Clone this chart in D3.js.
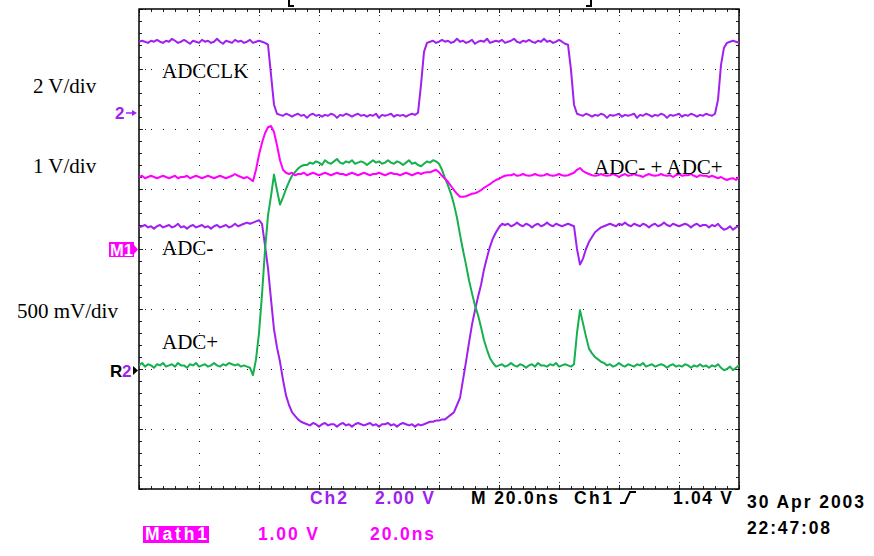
<!DOCTYPE html>
<html>
<head>
<meta charset="utf-8">
<script src="https://cdn.jsdelivr.net/npm/d3@7"></script>
<style>
  body { margin: 0; background: #fff; }
  svg { display: block; }
</style>
</head>
<body>
<script>
const PURPLE = "#a020f0";
const MAGENTA = "#ff00ff";
const GREEN = "#17b04f";

// scope samples, 1 ns apart, 0..200 ns (10 div x 20 ns)
const timeNs = d3.range(0, 201);

// Ch2 ADCCLK, volts
const ch2Clock = [
  2.37,2.40,2.37,2.33,2.40,2.37,2.43,2.37,2.33,2.40,
  2.37,2.47,2.40,2.33,2.37,2.43,2.37,2.30,2.40,2.37,
  2.33,2.43,2.37,2.40,2.33,2.37,2.47,2.37,2.30,2.40,
  2.37,2.33,2.43,2.37,2.40,2.33,2.37,2.43,2.33,2.37,
  2.40,2.37,2.33,
  2.27,1.27,0.27,-0.03,
  -0.07,-0.10,-0.03,-0.07,-0.13,-0.07,-0.03,-0.10,-0.07,-0.17,
  -0.07,-0.03,-0.10,-0.07,-0.13,-0.07,-0.10,-0.03,-0.07,-0.17,
  -0.07,-0.10,-0.03,-0.07,-0.13,-0.07,-0.03,-0.10,-0.07,-0.13,
  -0.07,-0.10,-0.03,-0.17,-0.07,-0.10,-0.07,-0.03,-0.13,-0.07,
  -0.10,-0.07,-0.13,-0.07,-0.03,-0.07,
  0.00,0.93,2.03,2.33,
  2.37,2.40,2.33,2.37,2.43,2.37,2.40,2.33,2.37,2.47,
  2.37,2.40,2.33,2.37,2.43,2.30,2.37,2.40,2.37,2.47,
  2.33,2.37,2.40,2.37,2.43,2.33,2.37,2.40,2.47,2.37,
  2.33,2.40,2.37,2.43,2.37,2.33,2.40,2.37,2.47,2.37,
  2.40,2.33,2.37,2.43,2.37,2.30,
  2.27,1.43,0.27,-0.03,
  -0.07,-0.10,-0.03,-0.07,-0.13,-0.07,-0.10,-0.03,-0.07,-0.17,
  -0.07,-0.10,-0.07,-0.03,-0.13,-0.07,-0.10,-0.07,-0.03,-0.17,
  -0.07,-0.10,-0.03,-0.07,-0.13,-0.07,-0.10,-0.03,-0.07,-0.17,
  -0.07,-0.10,-0.07,-0.03,-0.13,-0.07,-0.10,-0.03,-0.07,-0.13,
  -0.07,-0.10,-0.03,-0.07,-0.10,
  -0.03,0.43,1.60,2.17,2.33,
  2.37,2.40,2.37,2.33
];

// Math1 = ADC- + ADC+, volts
const math1Sum = [
  1.20,1.22,1.18,1.20,1.22,1.20,1.18,1.20,1.22,1.20,
  1.18,1.20,1.22,1.18,1.20,1.20,1.22,1.18,1.20,1.22,
  1.20,1.18,1.20,1.22,1.20,1.18,1.20,1.22,1.20,1.18,
  1.20,1.22,1.25,1.22,1.20,1.18,1.20,
  1.17,1.13,1.32,1.57,1.77,1.93,2.03,2.05,1.95,1.73,1.48,1.32,1.27,
  1.25,1.27,1.23,1.25,1.25,1.27,1.23,1.25,1.27,1.25,
  1.23,1.25,1.27,1.25,1.23,1.25,1.27,1.25,1.25,1.23,
  1.25,1.27,1.25,1.23,1.25,1.27,1.25,1.23,1.25,1.25,
  1.27,1.25,1.23,1.25,1.27,1.25,1.25,1.23,1.25,1.27,
  1.25,1.23,1.25,1.27,1.25,1.27,1.28,
  1.28,1.30,1.32,1.28,1.22,1.17,1.12,1.05,0.98,0.92,
  0.87,0.87,0.88,0.90,0.92,0.93,0.95,0.98,1.02,1.05,
  1.08,1.12,1.15,1.17,1.20,1.22,1.23,
  1.23,1.25,1.22,1.23,1.25,1.23,1.22,1.23,1.25,1.23,
  1.22,1.23,1.25,1.23,1.22,1.23,1.25,1.23,1.22,1.23,1.25,1.27,
  1.32,1.35,1.30,1.27,1.25,
  1.23,1.22,1.23,1.25,1.23,1.22,1.23,1.25,1.23,1.20,
  1.23,1.25,1.22,1.23,1.25,1.23,1.22,1.20,1.23,1.25,
  1.23,1.22,1.23,1.25,1.23,1.22,1.23,1.20,1.23,1.25,
  1.22,1.23,1.23,1.25,1.22,1.20,1.23,1.22,
  1.22,1.20,1.22,1.20,1.18,1.20,1.17,1.15,1.17,1.18,1.15,1.20
];

// ADC-, volts
const adcMinus = [
  1.68,1.69,1.70,1.68,1.69,1.67,1.69,1.70,1.68,1.69,
  1.70,1.68,1.69,1.71,1.68,1.69,1.67,1.69,1.70,1.68,
  1.69,1.70,1.68,1.69,1.67,1.69,1.70,1.68,1.69,1.70,
  1.68,1.69,1.71,1.69,1.70,1.71,1.72,1.71,1.72,
  1.73,1.74,1.71,1.53,1.34,1.08,0.83,0.68,0.56,0.41,0.28,0.20,0.14,0.11,0.08,0.06,0.05,
  0.04,0.03,0.05,0.04,0.02,0.04,0.05,0.03,0.04,0.04,
  0.02,0.04,0.05,0.03,0.04,0.02,0.04,0.05,0.04,0.03,
  0.04,0.05,0.03,0.04,0.02,0.04,0.04,0.05,0.03,0.04,
  0.02,0.04,0.05,0.04,0.03,0.04,0.02,0.04,0.03,0.04,
  0.05,0.06,0.06,0.07,
  0.07,0.08,0.08,0.10,0.12,0.14,0.20,0.26,0.41,0.56,
  0.72,0.87,0.99,1.10,1.20,1.33,1.43,1.52,1.59,1.64,1.68,1.71,
  1.70,1.71,1.69,1.70,1.72,1.70,1.69,1.71,1.70,1.68,
  1.70,1.71,1.69,1.70,1.72,1.70,1.69,1.71,1.70,1.69,
  1.70,1.71,1.70,1.69,
  1.50,1.37,1.42,1.50,1.56,1.60,1.64,1.66,1.68,1.69,
  1.70,1.71,1.70,1.69,1.71,1.70,1.72,1.70,1.69,1.71,
  1.70,1.69,1.71,1.70,1.68,1.70,1.71,1.69,1.70,1.72,
  1.70,1.69,1.71,1.70,1.69,1.70,1.71,1.70,1.68,1.70,
  1.71,1.69,1.70,1.70,1.68,1.70,1.69,1.71,1.68,1.66,
  1.67,1.69,1.66,1.68,1.69
];

// ADC+, volts
const adcPlus = [
  0.03,0.05,0.02,0.04,0.03,0.01,0.04,0.03,0.05,0.02,
  0.03,0.04,0.02,0.05,0.03,0.03,0.01,0.04,0.03,0.05,
  0.02,0.03,0.04,0.02,0.03,0.05,0.03,0.02,0.04,0.03,
  0.05,0.04,0.03,0.04,0.02,0.03,0.02,
  0.01,-0.05,0.08,0.30,0.62,0.99,1.28,1.44,1.62,1.49,1.37,1.43,1.50,1.56,1.61,1.64,1.67,1.69,1.70,
  1.70,1.72,1.71,1.73,1.72,1.70,1.74,1.72,1.71,1.73,
  1.75,1.72,1.71,1.73,1.72,1.74,1.71,1.72,1.73,1.72,
  1.70,1.72,1.74,1.72,1.73,1.71,1.72,1.74,1.72,1.71,
  1.73,1.72,1.70,1.72,1.74,1.71,1.72,1.70,1.69,1.71,
  1.73,1.72,1.74,1.73,
  1.71,1.66,1.59,1.53,1.46,1.37,1.26,1.12,0.99,0.87,
  0.74,0.63,0.53,0.45,0.35,0.24,0.16,0.09,0.05,0.02,
  0.03,0.04,0.02,0.03,0.05,0.03,0.02,0.04,0.03,0.01,
  0.03,0.04,0.02,0.05,0.03,0.03,0.02,0.04,0.03,0.05,
  0.02,0.03,0.04,0.03,0.02,0.04,
  0.30,0.49,0.38,0.27,0.17,0.13,0.10,0.08,0.06,0.05,
  0.03,0.04,0.02,0.03,0.05,0.03,0.02,0.04,0.03,0.02,
  0.04,0.03,0.05,0.02,0.03,0.04,0.02,0.03,0.04,0.03,
  0.01,0.03,0.04,0.02,0.03,0.02,0.04,0.03,0.01,0.03,
  0.02,0.04,0.02,0.03,0.01,0.03,0.02,0.04,0.01,-0.01,
  0.00,0.02,-0.01,0.01,0.03
];

// volts per division and where 0 V sits (divisions from screen centre)
const traces = [
  { values: adcMinus, vPerDiv: 0.5, groundDiv: -3, color: PURPLE },
  { values: adcPlus, vPerDiv: 0.5, groundDiv: -2, color: GREEN },
  { values: math1Sum, vPerDiv: 1, groundDiv: 0, color: MAGENTA },
  { values: ch2Clock, vPerDiv: 2, groundDiv: 2.27, color: PURPLE }
];

const W = 874, H = 556;
const scrLeft = 139, scrRight = 739, scrTop = 9, scrBottom = 489;

const svg = d3.select("body").append("svg")
  .attr("width", W)
  .attr("height", H);

svg.append("rect").attr("width", W).attr("height", H).attr("fill", "#fff");

const x = d3.scaleLinear().domain([0, 200]).range([scrLeft, scrRight]);
const yDiv = d3.scaleLinear().domain([-4, 4]).range([scrBottom, scrTop]);

const channelY = (vPerDiv, groundDiv) => d3.scaleLinear()
  .domain([(-4 - groundDiv) * vPerDiv, (4 - groundDiv) * vPerDiv])
  .range([scrBottom, scrTop]);

// graticule dots, every 0.2 div on each major line
const minorT = d3.range(0, 201, 4);
const minorDiv = d3.range(-20, 21).map(d => d / 5);
const dots = [];
for (let r = -3; r <= 3; r++) minorT.forEach(t => dots.push([x(t), yDiv(r)]));
for (let c = 20; c < 200; c += 20) minorDiv.forEach(d => dots.push([x(c), yDiv(d)]));

svg.append("g").selectAll("rect")
  .data(dots)
  .join("rect")
  .attr("x", d => Math.round(d[0]))
  .attr("y", d => Math.round(d[1]))
  .attr("width", 1)
  .attr("height", 1)
  .attr("fill", "#111");

// frame ticks
const minorAxis = (axis, scale, vals, size) => axis(scale).tickValues(vals).tickSize(-size).tickFormat("");
const frameAxes = [
  [d3.axisTop, x, `translate(0,${scrTop})`, minorT, d3.range(0, 201, 20)],
  [d3.axisBottom, x, `translate(0,${scrBottom})`, minorT, d3.range(0, 201, 20)],
  [d3.axisLeft, yDiv, `translate(${scrLeft},0)`, minorDiv, d3.range(-4, 5)],
  [d3.axisRight, yDiv, `translate(${scrRight},0)`, minorDiv, d3.range(-4, 5)]
];
frameAxes.forEach(([axis, scale, tr, minor, major]) => {
  const g1 = svg.append("g").attr("transform", tr).call(minorAxis(axis, scale, minor, 3));
  const g2 = svg.append("g").attr("transform", tr).call(minorAxis(axis, scale, major, 8));
  g1.select(".domain").remove();
  g2.select(".domain").remove();
  g1.selectAll("line").attr("stroke", "#222");
  g2.selectAll("line").attr("stroke", "#222").attr("stroke-dasharray", "1,2");
});

svg.append("rect")
  .attr("x", scrLeft).attr("y", scrTop)
  .attr("width", scrRight - scrLeft).attr("height", scrBottom - scrTop)
  .attr("fill", "none")
  .attr("stroke", "#000")
  .attr("stroke-width", 1.5);

// record-view brackets above the screen
svg.append("path")
  .attr("d", "M289,0 V6 H294 M591,0 V6 H586")
  .attr("fill", "none").attr("stroke", "#000").attr("stroke-width", 2);

svg.append("clipPath").attr("id", "screen")
  .append("rect")
  .attr("x", scrLeft).attr("y", scrTop)
  .attr("width", scrRight - scrLeft).attr("height", scrBottom - scrTop);

const tracesG = svg.append("g").attr("clip-path", "url(#screen)");
traces.forEach(tr => {
  const y = channelY(tr.vPerDiv, tr.groundDiv);
  const line = d3.line()
    .x((d, i) => x(timeNs[i]))
    .y(d => y(d));
  tracesG.append("path")
    .datum(tr.values)
    .attr("d", line)
    .attr("fill", "none")
    .attr("stroke", tr.color)
    .attr("stroke-width", 2)
    .attr("stroke-linejoin", "round");
});

// serif annotations
const serif = "'Liberation Serif', 'Times New Roman', serif";
const notes = [
  ["2 V/div", 33, 93], ["1 V/div", 33, 173], ["500 mV/div", 17, 318],
  ["ADCCLK", 162, 78], ["ADC-", 162, 255], ["ADC+", 162, 349], ["ADC- + ADC+", 594, 174]
];
svg.append("g").selectAll("text")
  .data(notes)
  .join("text")
  .attr("x", d => d[1]).attr("y", d => d[2])
  .attr("font-family", serif)
  .attr("font-size", 21)
  .attr("fill", "#000")
  .text(d => d[0]);

// channel ground markers
const sans = "'Liberation Sans', Arial, sans-serif";
svg.append("text").attr("x", 115).attr("y", 119)
  .attr("font-family", sans).attr("font-size", 17).attr("font-weight", "bold")
  .attr("fill", PURPLE).text("2");
svg.append("path").attr("d", "M126,113 H133").attr("stroke", PURPLE).attr("stroke-width", 1.5);
svg.append("path").attr("d", "M132,110 L137,113 L132,116 Z").attr("fill", PURPLE);

svg.append("rect").attr("x", 109).attr("y", 242).attr("width", 25).attr("height", 15).attr("fill", MAGENTA);
svg.append("text").attr("x", 110).attr("y", 255.5)
  .attr("font-family", sans).attr("font-size", 16).attr("font-weight", "bold")
  .attr("textLength", 23).attr("lengthAdjust", "spacingAndGlyphs")
  .attr("fill", "#fff").text("M1");
svg.append("path").attr("d", "M134,245 L138,249.5 L134,254 Z").attr("fill", MAGENTA);

svg.append("text").attr("x", 110).attr("y", 377)
  .attr("font-family", sans).attr("font-size", 17).attr("font-weight", "bold")
  .attr("fill", "#000").text("R");
svg.append("text").attr("x", 122).attr("y", 377)
  .attr("font-family", sans).attr("font-size", 17).attr("font-weight", "bold")
  .attr("fill", PURPLE).text("2");
svg.append("path").attr("d", "M133,366 L138,370.5 L133,375 Z").attr("fill", "#000");

// readout lines under the screen
const readout = [
  ["Ch2", 310, 504, 37, PURPLE], ["2.00 V", 375, 504, 59, PURPLE],
  ["M 20.0ns", 471, 504, 87, "#000"], ["Ch1", 574, 504, 38, "#000"],
  ["1.04 V", 673, 504, 59, "#000"],
  ["30 Apr 2003", 747, 508, 117, "#000"], ["22:47:08", 747, 534, 83, "#000"],
  ["Math1", 145, 540, 62, "#fff"], ["1.00 V", 258, 540, 60, MAGENTA],
  ["20.0ns", 370, 540, 64, MAGENTA]
];
svg.append("rect").attr("x", 143).attr("y", 526).attr("width", 66).attr("height", 17).attr("fill", MAGENTA);
svg.append("g").selectAll("text")
  .data(readout)
  .join("text")
  .attr("x", d => d[1]).attr("y", d => d[2])
  .attr("textLength", d => d[3])
  .attr("lengthAdjust", "spacing")
  .attr("font-family", sans)
  .attr("font-size", 17.5)
  .attr("font-weight", "bold")
  .attr("fill", d => d[4])
  .text(d => d[0]);

// rising-edge trigger glyph
svg.append("path")
  .attr("d", "M620,503 H625 L630,492 H636")
  .attr("fill", "none").attr("stroke", "#000").attr("stroke-width", 2);
</script>
</body>
</html>
